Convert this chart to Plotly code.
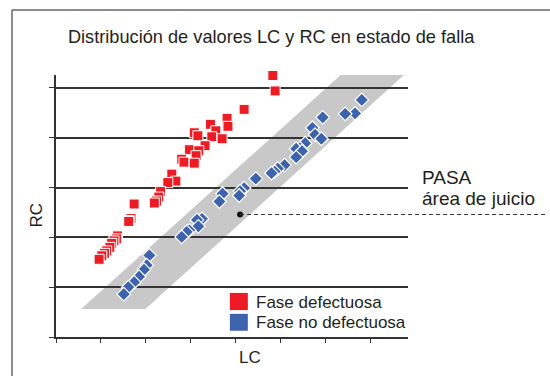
import plotly.graph_objects as go

# Faulty phase (red squares): LC, RC
fail_lc = [4.83, 4.88, 4.19, 3.81, 3.83, 3.44, 3.56, 3.08, 3.16, 3.47, 3.70, 3.32, 2.97,
           3.18, 3.12, 2.80, 2.85, 3.08, 2.58, 2.67, 2.49, 2.33, 2.29, 2.24, 2.19, 1.74,
           1.67, 1.63, 1.62, 1.37, 1.35, 1.29, 1.24, 1.20, 1.13, 1.08, 1.02, 0.96]
fail_rc = [5.25, 4.94, 4.57, 4.39, 4.23, 4.27, 4.14, 4.10, 4.04, 4.02, 3.98, 3.84, 3.76,
           3.74, 3.64, 3.57, 3.51, 3.49, 3.27, 3.13, 3.10, 2.92, 2.81, 2.73, 2.69, 2.67,
           2.38, 2.34, 2.32, 2.03, 1.97, 1.93, 1.88, 1.80, 1.73, 1.68, 1.63, 1.56]

# Healthy phase (blue diamonds): LC, RC
ok_lc = [6.81, 6.66, 6.44, 5.94, 5.71, 5.77, 5.91, 5.55, 5.43, 5.35, 5.48, 5.35, 5.09,
         4.94, 4.87, 4.80, 4.45, 4.19, 4.10, 4.08, 3.71, 3.64, 3.25, 3.14, 3.17, 2.97,
         2.91, 2.80, 2.08, 2.02, 1.96, 1.85, 1.74, 1.61, 1.51]
ok_rc = [4.76, 4.49, 4.48, 4.41, 4.20, 4.06, 3.98, 3.89, 3.79, 3.78, 3.73, 3.61, 3.45,
         3.38, 3.32, 3.29, 3.18, 2.99, 2.93, 2.84, 2.88, 2.72, 2.37, 2.35, 2.22, 2.14,
         2.11, 2.01, 1.64, 1.44, 1.35, 1.21, 1.10, 1.00, 0.86]

# "Pass" judgement band (parallelogram corners, LC / RC)
band_lc = [0.56, 1.99, 7.75, 6.34]
band_rc = [0.56, 0.56, 5.26, 5.26]

# Judgement reference point
ref_lc, ref_rc = 4.10, 2.46

x_range = [0, 7.84]
y_range = [0, 5.26]

RED = "#ed1c24"
BLUE = "#3e63ad"
INK = "#231f20"
FONT = "Liberation Sans"

fig = go.Figure()

path = "M " + " L ".join(f"{x},{y}" for x, y in zip(band_lc, band_rc)) + " Z"
fig.add_shape(type="path", path=path, xref="x", yref="y",
              fillcolor="#c8c8c8", line=dict(width=0), layer="below")

fig.add_trace(go.Scatter(
    x=fail_lc, y=fail_rc, mode="markers", name="Fase defectuosa",
    marker=dict(symbol="square", size=10, color=RED, line=dict(color="white", width=1)),
    cliponaxis=False))
fig.add_trace(go.Scatter(
    x=ok_lc, y=ok_rc, mode="markers", name="Fase no defectuosa",
    marker=dict(symbol="diamond", size=10.5, color=BLUE, line=dict(color="white", width=1.2)),
    cliponaxis=False))

# reference point with dashed leader out to the label
fig.add_shape(type="line", xref="paper", yref="y",
              x0=ref_lc / x_range[1], x1=1.39, y0=ref_rc, y1=ref_rc,
              line=dict(color="#333333", width=1, dash="4px,3px"))
fig.add_trace(go.Scatter(x=[ref_lc], y=[ref_rc], mode="markers",
                         marker=dict(size=6, color="#111111"), cliponaxis=False))

# outer frame (left and top edges)
fig.add_shape(type="line", xref="paper", yref="paper", x0=-0.125, x1=-0.125, y0=1.248, y1=-0.16,
              line=dict(color="#666666", width=1.5))
fig.add_shape(type="line", xref="paper", yref="paper", x0=-0.125, x1=1.41, y0=1.248, y1=1.248,
              line=dict(color="#666666", width=1.5))

# legend swatches
fig.add_shape(type="rect", xref="paper", yref="y", x0=0.494, x1=0.545, y0=0.54, y1=0.885,
              fillcolor=RED, line=dict(width=0))
fig.add_shape(type="rect", xref="paper", yref="y", x0=0.494, x1=0.545, y0=0.125, y1=0.465,
              fillcolor=BLUE, line=dict(width=0))

annots = [
    dict(text="Fase defectuosa", xref="paper", yref="y", x=0.562, y=0.69,
         xanchor="left", yanchor="middle", showarrow=False),
    dict(text="Fase no defectuosa", xref="paper", yref="y", x=0.562, y=0.29,
         xanchor="left", yanchor="middle", showarrow=False),
    dict(text="PASA", xref="paper", yref="y", x=1.035, y=3.21,
         xanchor="left", yanchor="middle", showarrow=False, font=dict(size=19)),
    dict(text="área de juicio", xref="paper", yref="y", x=1.035, y=2.79,
         xanchor="left", yanchor="middle", showarrow=False, font=dict(size=19)),
    dict(text="RC", xref="paper", yref="y", x=-0.055, y=2.45, textangle=-90,
         xanchor="center", yanchor="middle", showarrow=False),
    dict(text="LC", xref="paper", yref="paper", x=0.551, y=-0.08,
         xanchor="center", yanchor="middle", showarrow=False),
]

fig.update_layout(
    width=550, height=376,
    margin=dict(l=56, r=142, t=75, b=39),
    paper_bgcolor="white", plot_bgcolor="white",
    showlegend=False,
    font=dict(family=FONT, size=17, color=INK),
    title=dict(text="Distribución de valores LC y RC en estado de falla",
               xref="container", yref="container", x=0.493, y=0.902,
               xanchor="center", yanchor="middle",
               font=dict(family=FONT, size=18.2, color=INK)),
    annotations=annots,
)

fig.update_xaxes(range=x_range, tickmode="linear", tick0=0, dtick=1,
                 showticklabels=False, ticks="outside", ticklen=4, tickcolor="#333333",
                 showgrid=False, zeroline=False, showline=True, linecolor="#333333", linewidth=1.5)
fig.update_yaxes(range=y_range, tickmode="linear", tick0=0, dtick=1,
                 showticklabels=False, ticks="outside", ticklen=5, tickcolor="#333333",
                 showgrid=True, gridcolor="#333333", gridwidth=1.5,
                 zeroline=False, showline=True, linecolor="#333333", linewidth=1.5)

fig.write_html("out.html")
